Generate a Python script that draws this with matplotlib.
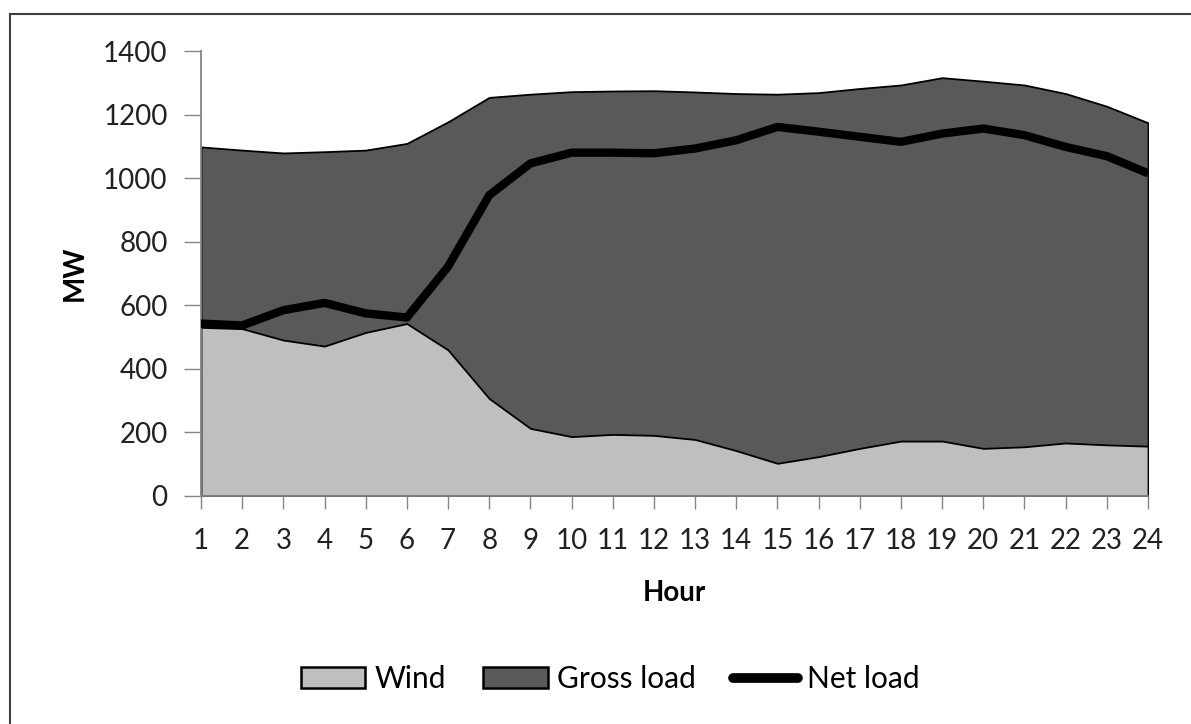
import matplotlib
matplotlib.use("Agg")
import matplotlib.pyplot as plt
from matplotlib.patches import Patch
from matplotlib.lines import Line2D

hours = list(range(1, 25))
gross_load = [1098, 1088, 1079, 1083, 1088, 1109, 1177, 1254, 1264, 1272,
              1274, 1275, 1271, 1266, 1264, 1269, 1282, 1293, 1316, 1305,
              1293, 1266, 1226, 1174]
wind = [530, 526, 490, 471, 514, 542, 459, 306, 212, 186,
        193, 190, 177, 142, 102, 123, 149, 172, 172, 149,
        154, 166, 160, 156]
net_load = [542, 536, 584, 607, 574, 561, 721, 946, 1046, 1080,
            1080, 1078, 1093, 1119, 1161, 1146, 1130, 1114, 1140, 1156,
            1135, 1098, 1069, 1015]

plt.rcParams['font.family'] = ['Lato', 'DejaVu Sans']

W, H = 1191, 724
fig = plt.figure(figsize=(W / 100, H / 100), dpi=100)
ax = fig.add_axes([201 / W, 1 - 495.7 / H, (1148 - 201) / W, (495.7 - 51) / H])

ax.fill_between(hours, 0, gross_load, facecolor='#595959', edgecolor='black', linewidth=1.3, zorder=1)
ax.fill_between(hours, 0, wind, facecolor='#bfbfbf', edgecolor='black', linewidth=1.3, zorder=2)
ax.plot(hours, net_load, color='black', linewidth=6, solid_capstyle='butt', zorder=3)

ax.set_xlim(1, 24)
ax.set_ylim(0, 1400)
ax.set_xticks(hours)
ax.set_xticklabels([str(h) for h in hours])
ax.set_yticks(range(0, 1401, 200))

for s in ['top', 'right']:
    ax.spines[s].set_visible(False)
for s in ['left', 'bottom']:
    ax.spines[s].set_color('#868686')
    ax.spines[s].set_linewidth(1.3)
ax.tick_params(axis='both', direction='out', width=1, color='#868686',
               labelsize=20, labelcolor='#222222')
ax.tick_params(axis='x', length=9, pad=14)
ax.tick_params(axis='y', length=12, pad=12)
ax.set_xlabel('Hour', fontsize=20, fontweight='bold', labelpad=19)
ax.set_ylabel('MW', fontsize=20, fontweight='bold', labelpad=11)

handles = [Patch(facecolor='#bfbfbf', edgecolor='black', linewidth=1.8, label='Wind'),
           Patch(facecolor='#595959', edgecolor='black', linewidth=1.8, label='Gross load'),
           Line2D([0], [0], color='black', linewidth=7, solid_capstyle='round', label='Net load')]
fig.legend(handles=handles, loc='center', bbox_to_anchor=(610 / W, 1 - 679 / H), ncol=3,
           frameon=False, fontsize=21.5, handlelength=2.17, handleheight=0.7,
           handletextpad=0.3, columnspacing=1.25)

# outer frame (top and left visible)
fig.add_artist(Line2D([10 / W, 10 / W], [0, 1 - 14 / H], color='#404040', linewidth=1.5,
                      transform=fig.transFigure))
fig.add_artist(Line2D([10 / W, 1], [1 - 14 / H, 1 - 14 / H], color='#404040', linewidth=1.5,
                      transform=fig.transFigure))

fig.savefig('out.png', dpi=100)
